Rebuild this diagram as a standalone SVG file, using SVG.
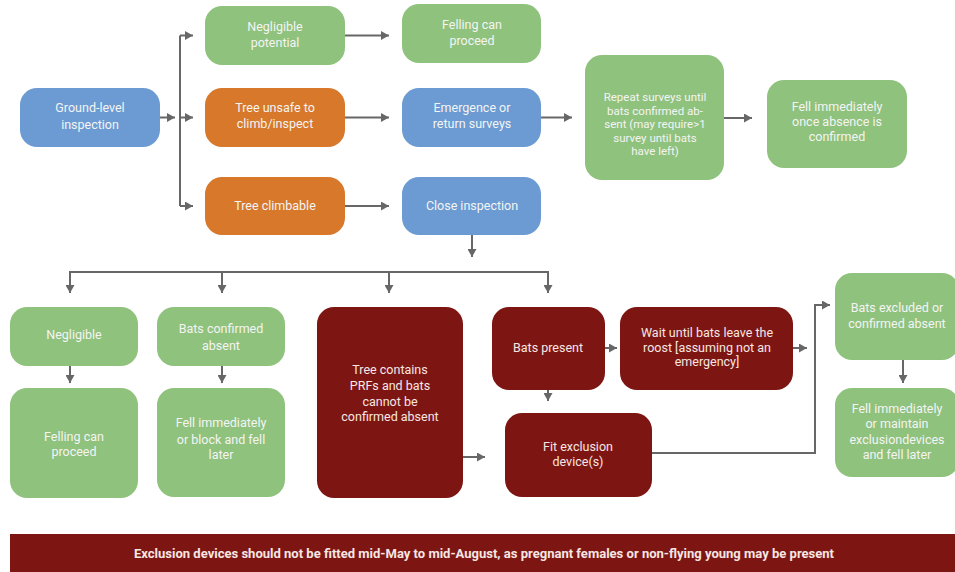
<svg xmlns="http://www.w3.org/2000/svg" width="955" height="572" viewBox="0 0 955 572">
<defs>
<style>
.g{fill:#8fc27d}
.b{fill:#6b9bd2}
.o{fill:#d7782b}
.r{fill:#7d1613}
text{font-family:Roboto,"Liberation Sans",sans-serif;font-size:12.5px;fill:#f4f4f4;text-anchor:middle}
.rt{fill:#f6e6e3}
.sm{font-size:11.5px}
.c{fill:none;stroke:#676767;stroke-width:2}
.a{marker-end:url(#ah)}
</style>
<marker id="ah" markerUnits="userSpaceOnUse" markerWidth="9" markerHeight="9" refX="8" refY="4.5" orient="auto">
<path d="M0,0 L8,4.5 L0,9 z" fill="#676767"/>
</marker>
</defs>
<rect width="955" height="572" fill="#ffffff"/>

<g id="connectors">
<path class="c a" d="M160 117.5 H175"/>
<path class="c" d="M180 35.5 V206"/>
<path class="c a" d="M180 35.5 H193"/>
<path class="c a" d="M180 117.5 H193"/>
<path class="c a" d="M180 206 H193"/>
<path class="c a" d="M345 35.5 H389"/>
<path class="c a" d="M345 117.5 H389"/>
<path class="c a" d="M345 206 H389"/>
<path class="c a" d="M541 117.5 H572"/>
<path class="c a" d="M724 118 H752"/>
<path class="c a" d="M472 235 V257"/>
<path class="c" d="M70 293 V272 H548 V293"/>
<path class="c a" d="M70 272 V293"/>
<path class="c a" d="M222 272 V293"/>
<path class="c a" d="M389 272 V293"/>
<path class="c a" d="M548 272 V293"/>
<path class="c a" d="M70 366 V383"/>
<path class="c a" d="M222 366 V383"/>
<path class="c a" d="M605 348 H617"/>
<path class="c a" d="M793 348 H807"/>
<path class="c a" d="M548 390 V401"/>
<path class="c a" d="M463 457 H485"/>
<path class="c a" d="M652 453 H815 V305 H830"/>
<path class="c a" d="M903 360 V383"/>
</g>

<g id="ground-level-inspection">
<rect class="b" x="20" y="88" width="140" height="59" rx="17"/>
<text x="90" y="112">Ground-level</text>
<text x="90" y="129">inspection</text>
</g>
<g id="negligible-potential">
<rect class="g" x="205" y="6" width="140" height="59" rx="17"/>
<text x="275" y="31">Negligible</text>
<text x="275" y="47">potential</text>
</g>
<g id="tree-unsafe">
<rect class="o" x="205" y="88" width="140" height="59" rx="17"/>
<text x="275" y="112">Tree unsafe to</text>
<text x="275" y="128">climb/inspect</text>
</g>
<g id="tree-climbable">
<rect class="o" x="205" y="177" width="140" height="58" rx="17"/>
<text x="275" y="210">Tree climbable</text>
</g>
<g id="felling-can-proceed-1">
<rect class="g" x="402" y="4" width="139" height="59" rx="17"/>
<text x="472" y="29">Felling can</text>
<text x="472" y="45">proceed</text>
</g>
<g id="emergence-surveys">
<rect class="b" x="402" y="88" width="139" height="59" rx="17"/>
<text x="472" y="112">Emergence or</text>
<text x="472" y="128">return surveys</text>
</g>
<g id="close-inspection">
<rect class="b" x="402" y="177" width="139" height="58" rx="17"/>
<text x="472" y="210">Close inspection</text>
</g>
<g id="repeat-surveys">
<rect class="g" x="585" y="55" width="139" height="125" rx="17"/>
<text class="sm" x="655" y="101">Repeat surveys until</text>
<text class="sm" x="655" y="114.5">bats confirmed ab-</text>
<text class="sm" x="655" y="128">sent (may require&gt;1</text>
<text class="sm" x="655" y="141.5">survey until bats</text>
<text class="sm" x="655" y="155">have left)</text>
</g>
<g id="fell-once-absent">
<rect class="g" x="767" y="80" width="140" height="88" rx="17"/>
<text x="837" y="111">Fell immediately</text>
<text x="837" y="126">once absence is</text>
<text x="837" y="141">confirmed</text>
</g>
<g id="negligible">
<rect class="g" x="10" y="307" width="128" height="59" rx="17"/>
<text x="74" y="339">Negligible</text>
</g>
<g id="felling-can-proceed-2">
<rect class="g" x="10" y="388" width="128" height="110" rx="17"/>
<text x="74" y="441">Felling can</text>
<text x="74" y="456">proceed</text>
</g>
<g id="bats-confirmed-absent">
<rect class="g" x="157" y="307" width="128" height="59" rx="17"/>
<text x="221" y="333">Bats confirmed</text>
<text x="221" y="350">absent</text>
</g>
<g id="fell-or-block">
<rect class="g" x="157" y="388" width="128" height="109" rx="17"/>
<text x="221" y="427">Fell immediately</text>
<text x="221" y="444">or block and fell</text>
<text x="221" y="459">later</text>
</g>
<g id="tree-contains-prfs">
<rect class="r" x="317" y="307" width="146" height="191" rx="17"/>
<text class="rt" x="390" y="374">Tree contains</text>
<text class="rt" x="390" y="390">PRFs and bats</text>
<text class="rt" x="390" y="406">cannot be</text>
<text class="rt" x="390" y="421">confirmed absent</text>
</g>
<g id="bats-present">
<rect class="r" x="492" y="307" width="113" height="83" rx="17"/>
<text class="rt" x="548" y="352">Bats present</text>
</g>
<g id="wait-until">
<rect class="r" x="620" y="307" width="173" height="83" rx="17"/>
<text class="rt" x="707" y="337">Wait until bats leave the</text>
<text class="rt" x="707" y="352">roost [assuming not an</text>
<text class="rt" x="707" y="366">emergency]</text>
</g>
<g id="fit-exclusion">
<rect class="r" x="505" y="413" width="147" height="84" rx="17"/>
<text class="rt" x="578" y="451">Fit exclusion</text>
<text class="rt" x="578" y="466">device(s)</text>
</g>
<g id="bats-excluded">
<rect class="g" x="835" y="273" width="124" height="87" rx="17"/>
<text x="897" y="312">Bats excluded or</text>
<text x="897" y="328">confirmed absent</text>
</g>
<g id="fell-or-maintain">
<rect class="g" x="835" y="388" width="124" height="89" rx="17"/>
<text x="897" y="413">Fell immediately</text>
<text x="897" y="428">or maintain</text>
<text x="897" y="444">exclusiondevices</text>
<text x="897" y="459">and fell later</text>
</g>
<g id="banner">
<rect x="10" y="534" width="950" height="40" fill="#7d1613"/>
<text x="484" y="558" style="font-weight:bold;font-size:12px;fill:#f6e6e3" textLength="700" lengthAdjust="spacingAndGlyphs">Exclusion devices should not be fitted mid-May to mid-August, as pregnant females or non-flying young may be present</text>
</g>
</svg>
